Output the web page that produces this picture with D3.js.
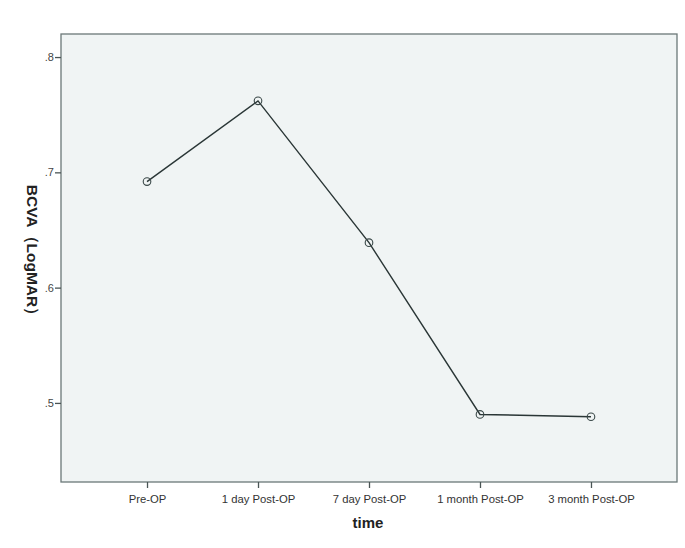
<!doctype html>
<html>
<head>
<meta charset="utf-8">
<script src="https://d3js.org/d3.v7.min.js"></script>
<style>
  body { margin: 0; background: #fff; }
  text { font-family: "Liberation Sans", Arial, sans-serif; }
</style>
</head>
<body>
<script>
const categories = ["Pre-OP", "1 day Post-OP", "7 day Post-OP", "1 month Post-OP", "3 month Post-OP"];
const bcva = [0.692, 0.762, 0.639, 0.490, 0.488];
const yTicks = [0.5, 0.6, 0.7, 0.8];

const w = 685, h = 548;
const plotL = 61, plotR = 677, plotT = 34, plotB = 482;

const svg = d3.select("body").append("svg")
    .attr("width", w)
    .attr("height", h);

const x = d3.scalePoint()
    .domain(categories)
    .range([plotL, plotR])
    .padding(0.775);

const y = d3.scaleLinear()
    .domain([0.4314, 0.82])
    .range([plotB, plotT]);

// plot area
svg.append("rect")
    .attr("x", plotL).attr("y", plotT)
    .attr("width", plotR - plotL).attr("height", plotB - plotT)
    .attr("fill", "#f0f4f4")
    .attr("stroke", "#6b7878")
    .attr("stroke-width", 1.3);

const yAxis = d3.axisLeft(y)
    .tickValues(yTicks)
    .tickSize(6)
    .tickFormat(d => d3.format(".1f")(d).replace(/^0/, ""));
svg.append("g")
    .attr("transform", "translate(" + plotL + ",0)")
    .call(yAxis)
    .call(g => g.select(".domain").remove())
    .call(g => g.selectAll("line").attr("stroke", "#4a5555").attr("stroke-width", 1.3))
    .call(g => g.selectAll("text").attr("font-size", 11).attr("fill", "#444").attr("x", -7));

const xAxis = d3.axisBottom(x).tickSize(6);
svg.append("g")
    .attr("transform", "translate(0," + plotB + ")")
    .call(xAxis)
    .call(g => g.select(".domain").remove())
    .call(g => g.selectAll("line").attr("stroke", "#4a5555").attr("stroke-width", 1.3))
    .call(g => g.selectAll("text").attr("font-size", 11.3).attr("fill", "#333").attr("dy", "1.05em"));

const line = d3.line()
    .x((d, i) => x(categories[i]))
    .y(d => y(d));

svg.append("path")
    .datum(bcva)
    .attr("d", line)
    .attr("fill", "none")
    .attr("stroke", "#2a3636")
    .attr("stroke-width", 1.4);

svg.selectAll("circle")
    .data(bcva)
    .enter()
    .append("circle")
    .attr("cx", (d, i) => x(categories[i]))
    .attr("cy", d => y(d))
    .attr("r", 3.8)
    .attr("fill", "none")
    .attr("stroke", "#3a4848")
    .attr("stroke-width", 1.1);

svg.append("text")
    .attr("transform", "translate(27,254) rotate(90)")
    .attr("text-anchor", "middle")
    .attr("font-size", 15.5)
    .attr("font-weight", "bold")
    .attr("fill", "#222")
    .text("BCVA（LogMAR）");

svg.append("text")
    .attr("x", 368).attr("y", 528)
    .attr("text-anchor", "middle")
    .attr("font-size", 15)
    .attr("font-weight", "bold")
    .attr("fill", "#222")
    .text("time");
</script>
</body>
</html>
